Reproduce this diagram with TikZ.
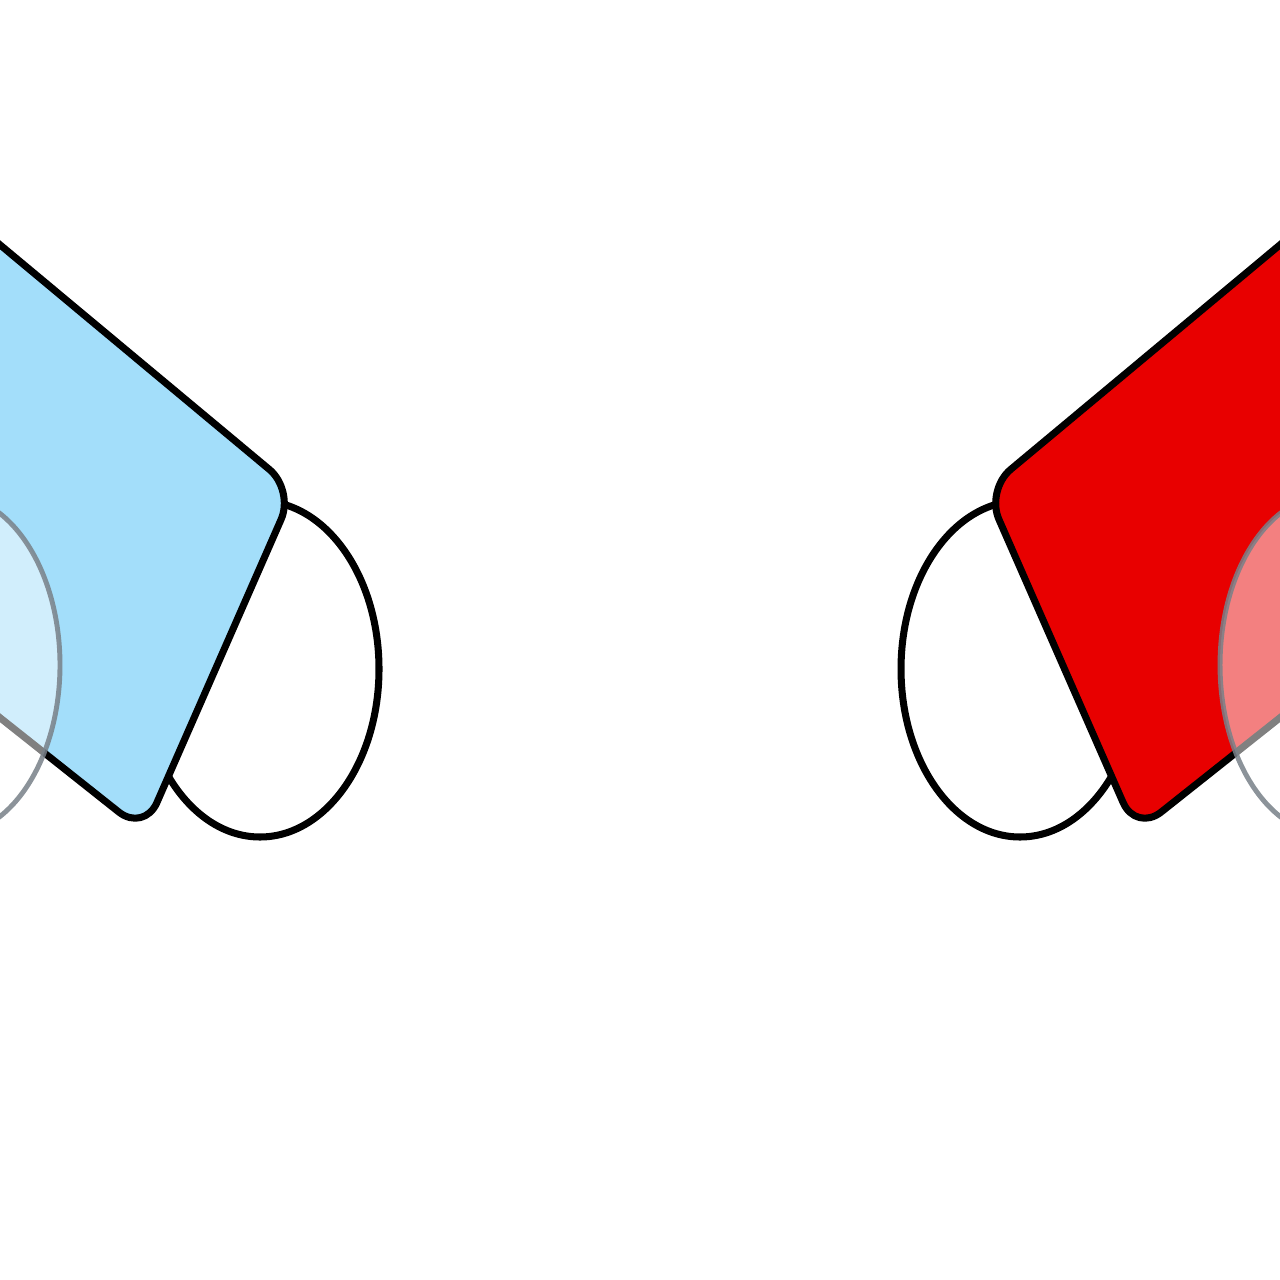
\documentclass[tikz,border=0pt]{standalone}
\definecolor{lensblue}{RGB}{163,222,250}
\definecolor{lensred}{RGB}{232,0,0}
\definecolor{rimgray}{RGB}{120,128,136}
\tikzset{
  outline/.style={draw=black, line width=2pt, line join=round},
  pad/.style={outline, fill=white},
  glass/.style={draw=rimgray, line width=1.4pt, fill=white, fill opacity=0.5, draw opacity=0.85},
}
\begin{document}
\begin{tikzpicture}[x=0.01cm, y=-0.01cm]
\useasboundingbox (0,0) rectangle (1280,1280);
\clip (0,0) rectangle (1280,1280);
% left side
\draw[pad] (260,669) ellipse [x radius=119, y radius=168];
\draw[outline, fill=lensblue, rounded corners=3.2mm]
  (-200,78) -- (294,490) -- (144,832) -- (-200,559) -- cycle;
\draw[glass] (-50,665) ellipse [x radius=110, y radius=170];
% right side
\draw[pad] (1020,669) ellipse [x radius=119, y radius=168];
\draw[outline, fill=lensred, rounded corners=3.2mm]
  (1480,78) -- (986,490) -- (1136,832) -- (1480,559) -- cycle;
\draw[glass] (1330,665) ellipse [x radius=110, y radius=170];
\end{tikzpicture}
\end{document}
